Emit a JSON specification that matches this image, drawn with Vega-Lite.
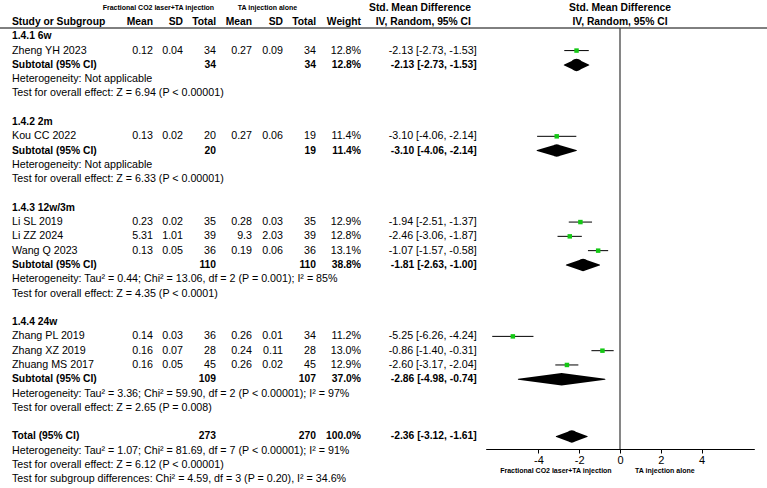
{
  "$schema": "https://vega.github.io/schema/vega-lite/v6.json",
  "width": 767,
  "height": 488,
  "autosize": {"type": "none"},
  "padding": 0,
  "background": "white",
  "config": {
    "view": {"stroke": null},
    "text": {"font": "Liberation Sans", "fontSize": 10.7, "color": "#000", "baseline": "middle"},
    "axis": {"labelFont": "Liberation Sans"}
  },
  "datasets": {
    "studies": [
      {"row": 2, "study": "Zheng YH 2023", "m1": 0.12, "sd1": 0.04, "n1": 34, "m2": 0.27, "sd2": 0.09, "n2": 34, "w": 0.128, "est": -2.13, "lo": -2.73, "hi": -1.53, "ci": "-2.13 [-2.73, -1.53]"},
      {"row": 8, "study": "Kou CC 2022", "m1": 0.13, "sd1": 0.02, "n1": 20, "m2": 0.27, "sd2": 0.06, "n2": 19, "w": 0.114, "est": -3.10, "lo": -4.06, "hi": -2.14, "ci": "-3.10 [-4.06, -2.14]"},
      {"row": 14, "study": "Li SL 2019", "m1": 0.23, "sd1": 0.02, "n1": 35, "m2": 0.28, "sd2": 0.03, "n2": 35, "w": 0.129, "est": -1.94, "lo": -2.51, "hi": -1.37, "ci": "-1.94 [-2.51, -1.37]"},
      {"row": 15, "study": "Li ZZ 2024", "m1": 5.31, "sd1": 1.01, "n1": 39, "m2": 9.3, "sd2": 2.03, "n2": 39, "w": 0.128, "est": -2.46, "lo": -3.06, "hi": -1.87, "ci": "-2.46 [-3.06, -1.87]"},
      {"row": 16, "study": "Wang Q 2023", "m1": 0.13, "sd1": 0.05, "n1": 36, "m2": 0.19, "sd2": 0.06, "n2": 36, "w": 0.131, "est": -1.07, "lo": -1.57, "hi": -0.58, "ci": "-1.07 [-1.57, -0.58]"},
      {"row": 22, "study": "Zhang PL 2019", "m1": 0.14, "sd1": 0.03, "n1": 36, "m2": 0.26, "sd2": 0.01, "n2": 34, "w": 0.112, "est": -5.25, "lo": -6.26, "hi": -4.24, "ci": "-5.25 [-6.26, -4.24]"},
      {"row": 23, "study": "Zhang XZ 2019", "m1": 0.16, "sd1": 0.07, "n1": 28, "m2": 0.24, "sd2": 0.11, "n2": 28, "w": 0.130, "est": -0.86, "lo": -1.40, "hi": -0.31, "ci": "-0.86 [-1.40, -0.31]"},
      {"row": 24, "study": "Zhuang MS 2017", "m1": 0.16, "sd1": 0.05, "n1": 45, "m2": 0.26, "sd2": 0.02, "n2": 45, "w": 0.129, "est": -2.60, "lo": -3.17, "hi": -2.04, "ci": "-2.60 [-3.17, -2.04]"}
    ],
    "pooled": [
      {"row": 3, "label": "Subtotal (95% CI)", "n1": 34, "n2": 34, "w": 0.128, "est": -2.13, "lo": -2.73, "hi": -1.53, "ci": "-2.13 [-2.73, -1.53]"},
      {"row": 9, "label": "Subtotal (95% CI)", "n1": 20, "n2": 19, "w": 0.114, "est": -3.10, "lo": -4.06, "hi": -2.14, "ci": "-3.10 [-4.06, -2.14]"},
      {"row": 17, "label": "Subtotal (95% CI)", "n1": 110, "n2": 110, "w": 0.388, "est": -1.81, "lo": -2.63, "hi": -1.00, "ci": "-1.81 [-2.63, -1.00]"},
      {"row": 25, "label": "Subtotal (95% CI)", "n1": 109, "n2": 107, "w": 0.370, "est": -2.86, "lo": -4.98, "hi": -0.74, "ci": "-2.86 [-4.98, -0.74]"},
      {"row": 29, "label": "Total (95% CI)", "n1": 273, "n2": 270, "w": 1.0, "est": -2.36, "lo": -3.12, "hi": -1.61, "ci": "-2.36 [-3.12, -1.61]"}
    ],
    "groups": [
      {"row": 1, "label": "1.4.1 6w"},
      {"row": 7, "label": "1.4.2 2m"},
      {"row": 13, "label": "1.4.3 12w/3m"},
      {"row": 21, "label": "1.4.4 24w"}
    ],
    "notes": [
      {"row": 4, "label": "Heterogeneity: Not applicable"},
      {"row": 5, "label": "Test for overall effect: Z = 6.94 (P < 0.00001)"},
      {"row": 10, "label": "Heterogeneity: Not applicable"},
      {"row": 11, "label": "Test for overall effect: Z = 6.33 (P < 0.00001)"},
      {"row": 18, "label": "Heterogeneity: Tau² = 0.44; Chi² = 13.06, df = 2 (P = 0.001); I² = 85%"},
      {"row": 19, "label": "Test for overall effect: Z = 4.35 (P < 0.0001)"},
      {"row": 26, "label": "Heterogeneity: Tau² = 3.36; Chi² = 59.90, df = 2 (P < 0.00001); I² = 97%"},
      {"row": 27, "label": "Test for overall effect: Z = 2.65 (P = 0.008)"},
      {"row": 30, "label": "Heterogeneity: Tau² = 1.07; Chi² = 81.69, df = 7 (P < 0.00001); I² = 91%"},
      {"row": 31, "label": "Test for overall effect: Z = 6.12 (P < 0.00001)"},
      {"row": 32, "label": "Test for subgroup differences: Chi² = 4.59, df = 3 (P = 0.20), I² = 34.6%"}
    ]
  },
  "resolve": {"scale": {"x": "independent"}, "axis": {"x": "independent"}},
  "layer": [
    {"data": {"name": "studies"}, "mark": {"type": "text", "align": "left"},
     "encoding": {"text": {"field": "study"}, "x": {"datum": 0, "type": "quantitative", "scale": {"domain": [0,1,2,3,4,5,6,7,8], "range": [12,153,183,216,252,283,316,361,476.7], "nice": false, "zero": false}, "axis": null},
       "y": {"field": "row", "type": "quantitative", "scale": {"domain": [-1.54, 32.61], "reverse": true, "nice": false, "zero": false}, "axis": null}}},
    {"data": {"name": "studies"}, "mark": {"type": "text", "align": "right"},
     "encoding": {"text": {"field": "m1", "type": "nominal"}, "x": {"datum": 1, "type": "quantitative", "scale": {"domain": [0,1,2,3,4,5,6,7,8], "range": [12,153,183,216,252,283,316,361,476.7], "nice": false, "zero": false}, "axis": null},
       "y": {"field": "row", "type": "quantitative", "scale": {"domain": [-1.54, 32.61], "reverse": true, "nice": false, "zero": false}, "axis": null}}},
    {"data": {"name": "studies"}, "mark": {"type": "text", "align": "right"},
     "encoding": {"text": {"field": "sd1", "type": "nominal"}, "x": {"datum": 2, "type": "quantitative", "scale": {"domain": [0,1,2,3,4,5,6,7,8], "range": [12,153,183,216,252,283,316,361,476.7], "nice": false, "zero": false}, "axis": null},
       "y": {"field": "row", "type": "quantitative", "scale": {"domain": [-1.54, 32.61], "reverse": true, "nice": false, "zero": false}, "axis": null}}},
    {"data": {"name": "studies"}, "mark": {"type": "text", "align": "right"},
     "encoding": {"text": {"field": "n1", "type": "nominal"}, "x": {"datum": 3, "type": "quantitative", "scale": {"domain": [0,1,2,3,4,5,6,7,8], "range": [12,153,183,216,252,283,316,361,476.7], "nice": false, "zero": false}, "axis": null},
       "y": {"field": "row", "type": "quantitative", "scale": {"domain": [-1.54, 32.61], "reverse": true, "nice": false, "zero": false}, "axis": null}}},
    {"data": {"name": "studies"}, "mark": {"type": "text", "align": "right"},
     "encoding": {"text": {"field": "m2", "type": "nominal"}, "x": {"datum": 4, "type": "quantitative", "scale": {"domain": [0,1,2,3,4,5,6,7,8], "range": [12,153,183,216,252,283,316,361,476.7], "nice": false, "zero": false}, "axis": null},
       "y": {"field": "row", "type": "quantitative", "scale": {"domain": [-1.54, 32.61], "reverse": true, "nice": false, "zero": false}, "axis": null}}},
    {"data": {"name": "studies"}, "mark": {"type": "text", "align": "right"},
     "encoding": {"text": {"field": "sd2", "type": "nominal"}, "x": {"datum": 5, "type": "quantitative", "scale": {"domain": [0,1,2,3,4,5,6,7,8], "range": [12,153,183,216,252,283,316,361,476.7], "nice": false, "zero": false}, "axis": null},
       "y": {"field": "row", "type": "quantitative", "scale": {"domain": [-1.54, 32.61], "reverse": true, "nice": false, "zero": false}, "axis": null}}},
    {"data": {"name": "studies"}, "mark": {"type": "text", "align": "right"},
     "encoding": {"text": {"field": "n2", "type": "nominal"}, "x": {"datum": 6, "type": "quantitative", "scale": {"domain": [0,1,2,3,4,5,6,7,8], "range": [12,153,183,216,252,283,316,361,476.7], "nice": false, "zero": false}, "axis": null},
       "y": {"field": "row", "type": "quantitative", "scale": {"domain": [-1.54, 32.61], "reverse": true, "nice": false, "zero": false}, "axis": null}}},
    {"data": {"name": "studies"}, "mark": {"type": "text", "align": "right"},
     "encoding": {"text": {"field": "w", "type": "quantitative", "format": ".1%"}, "x": {"datum": 7, "type": "quantitative", "scale": {"domain": [0,1,2,3,4,5,6,7,8], "range": [12,153,183,216,252,283,316,361,476.7], "nice": false, "zero": false}, "axis": null},
       "y": {"field": "row", "type": "quantitative", "scale": {"domain": [-1.54, 32.61], "reverse": true, "nice": false, "zero": false}, "axis": null}}},
    {"data": {"name": "studies"}, "mark": {"type": "text", "align": "right"},
     "encoding": {"text": {"field": "ci", "type": "nominal"}, "x": {"datum": 8, "type": "quantitative", "scale": {"domain": [0,1,2,3,4,5,6,7,8], "range": [12,153,183,216,252,283,316,361,476.7], "nice": false, "zero": false}, "axis": null},
       "y": {"field": "row", "type": "quantitative", "scale": {"domain": [-1.54, 32.61], "reverse": true, "nice": false, "zero": false}, "axis": null}}},

    {"data": {"name": "pooled"}, "mark": {"type": "text", "align": "left", "fontWeight": "bold", "fontSize": 10.3},
     "encoding": {"text": {"field": "label"}, "x": {"datum": 0, "type": "quantitative", "scale": {"domain": [0,1,2,3,4,5,6,7,8], "range": [12,153,183,216,252,283,316,361,476.7], "nice": false, "zero": false}, "axis": null},
       "y": {"field": "row", "type": "quantitative", "scale": {"domain": [-1.54, 32.61], "reverse": true, "nice": false, "zero": false}, "axis": null}}},
    {"data": {"name": "pooled"}, "mark": {"type": "text", "align": "right", "fontWeight": "bold", "fontSize": 10.3},
     "encoding": {"text": {"field": "n1", "type": "nominal"}, "x": {"datum": 3, "type": "quantitative", "scale": {"domain": [0,1,2,3,4,5,6,7,8], "range": [12,153,183,216,252,283,316,361,476.7], "nice": false, "zero": false}, "axis": null},
       "y": {"field": "row", "type": "quantitative", "scale": {"domain": [-1.54, 32.61], "reverse": true, "nice": false, "zero": false}, "axis": null}}},
    {"data": {"name": "pooled"}, "mark": {"type": "text", "align": "right", "fontWeight": "bold", "fontSize": 10.3},
     "encoding": {"text": {"field": "n2", "type": "nominal"}, "x": {"datum": 6, "type": "quantitative", "scale": {"domain": [0,1,2,3,4,5,6,7,8], "range": [12,153,183,216,252,283,316,361,476.7], "nice": false, "zero": false}, "axis": null},
       "y": {"field": "row", "type": "quantitative", "scale": {"domain": [-1.54, 32.61], "reverse": true, "nice": false, "zero": false}, "axis": null}}},
    {"data": {"name": "pooled"}, "mark": {"type": "text", "align": "right", "fontWeight": "bold", "fontSize": 10.3},
     "encoding": {"text": {"field": "w", "type": "quantitative", "format": ".1%"}, "x": {"datum": 7, "type": "quantitative", "scale": {"domain": [0,1,2,3,4,5,6,7,8], "range": [12,153,183,216,252,283,316,361,476.7], "nice": false, "zero": false}, "axis": null},
       "y": {"field": "row", "type": "quantitative", "scale": {"domain": [-1.54, 32.61], "reverse": true, "nice": false, "zero": false}, "axis": null}}},
    {"data": {"name": "pooled"}, "mark": {"type": "text", "align": "right", "fontWeight": "bold", "fontSize": 10.3},
     "encoding": {"text": {"field": "ci", "type": "nominal"}, "x": {"datum": 8, "type": "quantitative", "scale": {"domain": [0,1,2,3,4,5,6,7,8], "range": [12,153,183,216,252,283,316,361,476.7], "nice": false, "zero": false}, "axis": null},
       "y": {"field": "row", "type": "quantitative", "scale": {"domain": [-1.54, 32.61], "reverse": true, "nice": false, "zero": false}, "axis": null}}},

    {"data": {"name": "groups"}, "mark": {"type": "text", "align": "left", "fontWeight": "bold", "fontSize": 10.3},
     "encoding": {"text": {"field": "label"}, "x": {"datum": 0, "type": "quantitative", "scale": {"domain": [0,1,2,3,4,5,6,7,8], "range": [12,153,183,216,252,283,316,361,476.7], "nice": false, "zero": false}, "axis": null},
       "y": {"field": "row", "type": "quantitative", "scale": {"domain": [-1.54, 32.61], "reverse": true, "nice": false, "zero": false}, "axis": null}}},
    {"data": {"name": "notes"}, "mark": {"type": "text", "align": "left"},
     "encoding": {"text": {"field": "label"}, "x": {"datum": 0, "type": "quantitative", "scale": {"domain": [0,1,2,3,4,5,6,7,8], "range": [12,153,183,216,252,283,316,361,476.7], "nice": false, "zero": false}, "axis": null},
       "y": {"field": "row", "type": "quantitative", "scale": {"domain": [-1.54, 32.61], "reverse": true, "nice": false, "zero": false}, "axis": null}}},

    {"data": {"values": [{}]}, "mark": {"type": "text", "align": "left", "fontWeight": "bold", "fontSize": 10.3, "text": "Study or Subgroup"},
     "encoding": {"x": {"datum": 0, "type": "quantitative", "scale": {"domain": [0,1,2,3,4,5,6,7,8], "range": [12,153,183,216,252,283,316,361,476.7], "nice": false, "zero": false}, "axis": null},
       "y": {"datum": 0, "type": "quantitative", "scale": {"domain": [-1.54, 32.61], "reverse": true, "nice": false, "zero": false}, "axis": null}}},
    {"data": {"values": [{}]}, "mark": {"type": "text", "align": "right", "fontWeight": "bold", "fontSize": 10.3, "text": "Mean"},
     "encoding": {"x": {"datum": 1, "type": "quantitative", "scale": {"domain": [0,1,2,3,4,5,6,7,8], "range": [12,153,183,216,252,283,316,361,476.7], "nice": false, "zero": false}, "axis": null},
       "y": {"datum": 0, "type": "quantitative", "scale": {"domain": [-1.54, 32.61], "reverse": true, "nice": false, "zero": false}, "axis": null}}},
    {"data": {"values": [{}]}, "mark": {"type": "text", "align": "right", "fontWeight": "bold", "fontSize": 10.3, "text": "SD"},
     "encoding": {"x": {"datum": 2, "type": "quantitative", "scale": {"domain": [0,1,2,3,4,5,6,7,8], "range": [12,153,183,216,252,283,316,361,476.7], "nice": false, "zero": false}, "axis": null},
       "y": {"datum": 0, "type": "quantitative", "scale": {"domain": [-1.54, 32.61], "reverse": true, "nice": false, "zero": false}, "axis": null}}},
    {"data": {"values": [{}]}, "mark": {"type": "text", "align": "right", "fontWeight": "bold", "fontSize": 10.3, "text": "Total"},
     "encoding": {"x": {"datum": 3, "type": "quantitative", "scale": {"domain": [0,1,2,3,4,5,6,7,8], "range": [12,153,183,216,252,283,316,361,476.7], "nice": false, "zero": false}, "axis": null},
       "y": {"datum": 0, "type": "quantitative", "scale": {"domain": [-1.54, 32.61], "reverse": true, "nice": false, "zero": false}, "axis": null}}},
    {"data": {"values": [{}]}, "mark": {"type": "text", "align": "right", "fontWeight": "bold", "fontSize": 10.3, "text": "Mean"},
     "encoding": {"x": {"datum": 4, "type": "quantitative", "scale": {"domain": [0,1,2,3,4,5,6,7,8], "range": [12,153,183,216,252,283,316,361,476.7], "nice": false, "zero": false}, "axis": null},
       "y": {"datum": 0, "type": "quantitative", "scale": {"domain": [-1.54, 32.61], "reverse": true, "nice": false, "zero": false}, "axis": null}}},
    {"data": {"values": [{}]}, "mark": {"type": "text", "align": "right", "fontWeight": "bold", "fontSize": 10.3, "text": "SD"},
     "encoding": {"x": {"datum": 5, "type": "quantitative", "scale": {"domain": [0,1,2,3,4,5,6,7,8], "range": [12,153,183,216,252,283,316,361,476.7], "nice": false, "zero": false}, "axis": null},
       "y": {"datum": 0, "type": "quantitative", "scale": {"domain": [-1.54, 32.61], "reverse": true, "nice": false, "zero": false}, "axis": null}}},
    {"data": {"values": [{}]}, "mark": {"type": "text", "align": "right", "fontWeight": "bold", "fontSize": 10.3, "text": "Total"},
     "encoding": {"x": {"datum": 6, "type": "quantitative", "scale": {"domain": [0,1,2,3,4,5,6,7,8], "range": [12,153,183,216,252,283,316,361,476.7], "nice": false, "zero": false}, "axis": null},
       "y": {"datum": 0, "type": "quantitative", "scale": {"domain": [-1.54, 32.61], "reverse": true, "nice": false, "zero": false}, "axis": null}}},
    {"data": {"values": [{}]}, "mark": {"type": "text", "align": "right", "fontWeight": "bold", "fontSize": 10.3, "text": "Weight"},
     "encoding": {"x": {"datum": 7, "type": "quantitative", "scale": {"domain": [0,1,2,3,4,5,6,7,8], "range": [12,153,183,216,252,283,316,361,476.7], "nice": false, "zero": false}, "axis": null},
       "y": {"datum": 0, "type": "quantitative", "scale": {"domain": [-1.54, 32.61], "reverse": true, "nice": false, "zero": false}, "axis": null}}},
    {"data": {"values": [{}]}, "mark": {"type": "text", "align": "right", "fontWeight": "bold", "fontSize": 10.3, "text": "IV, Random, 95% CI"},
     "encoding": {"x": {"datum": 7.95, "type": "quantitative", "scale": {"domain": [0,1,2,3,4,5,6,7,8], "range": [12,153,183,216,252,283,316,361,476.7], "nice": false, "zero": false}, "axis": null},
       "y": {"datum": 0, "type": "quantitative", "scale": {"domain": [-1.54, 32.61], "reverse": true, "nice": false, "zero": false}, "axis": null}}},
    {"data": {"values": [{}]}, "mark": {"type": "text", "align": "right", "fontWeight": "bold", "fontSize": 10.3, "text": "Std. Mean Difference"},
     "encoding": {"x": {"datum": 7.95, "type": "quantitative", "scale": {"domain": [0,1,2,3,4,5,6,7,8], "range": [12,153,183,216,252,283,316,361,476.7], "nice": false, "zero": false}, "axis": null},
       "y": {"datum": -1, "type": "quantitative", "scale": {"domain": [-1.54, 32.61], "reverse": true, "nice": false, "zero": false}, "axis": null}}},
    {"data": {"values": [{}]}, "mark": {"type": "text", "align": "center", "fontWeight": "bold", "fontSize": 7, "text": "Fractional CO2 laser+TA injection"},
     "encoding": {"x": {"datum": 1.18, "type": "quantitative", "scale": {"domain": [0,1,2,3,4,5,6,7,8], "range": [12,153,183,216,252,283,316,361,476.7], "nice": false, "zero": false}, "axis": null},
       "y": {"datum": -1, "type": "quantitative", "scale": {"domain": [-1.54, 32.61], "reverse": true, "nice": false, "zero": false}, "axis": null}}},
    {"data": {"values": [{}]}, "mark": {"type": "text", "align": "center", "fontWeight": "bold", "fontSize": 7, "text": "TA injection alone"},
     "encoding": {"x": {"datum": 4.5, "type": "quantitative", "scale": {"domain": [0,1,2,3,4,5,6,7,8], "range": [12,153,183,216,252,283,316,361,476.7], "nice": false, "zero": false}, "axis": null},
       "y": {"datum": -1, "type": "quantitative", "scale": {"domain": [-1.54, 32.61], "reverse": true, "nice": false, "zero": false}, "axis": null}}},

    {"data": {"values": [{}]}, "mark": {"type": "rule", "color": "#000", "strokeWidth": 1},
     "encoding": {"y": {"datum": 0.42, "type": "quantitative", "scale": {"domain": [-1.54, 32.61], "reverse": true, "nice": false, "zero": false}, "axis": null}}},
    {"data": {"values": [{}]}, "mark": {"type": "rule", "color": "#444", "strokeWidth": 1.3},
     "encoding": {"x": {"datum": 0, "type": "quantitative", "scale": {"domain": [-6.58, 6.58], "range": [485.7, 754.3], "nice": false, "zero": false}, "axis": null},
       "y": {"datum": 0.42, "type": "quantitative", "scale": {"domain": [-1.54, 32.61], "reverse": true, "nice": false, "zero": false}, "axis": null},
       "y2": {"datum": 29.88}}},
    {"data": {"name": "studies"}, "mark": {"type": "rule", "color": "#000", "strokeWidth": 1},
     "encoding": {"x": {"field": "lo", "type": "quantitative", "scale": {"domain": [-6.58, 6.58], "range": [485.7, 754.3], "nice": false, "zero": false},
         "axis": {"values": [-4, -2, 0, 2, 4], "labelExpr": "'' + datum.value", "offset": -39, "title": null, "grid": false, "domainColor": "#000", "domainWidth": 1, "tickColor": "#000", "tickSize": 4, "labelColor": "#000", "labelFontSize": 11, "labelPadding": 1}},
       "x2": {"field": "hi"},
       "y": {"field": "row", "type": "quantitative", "scale": {"domain": [-1.54, 32.61], "reverse": true, "nice": false, "zero": false}, "axis": null}}},
    {"data": {"name": "studies"}, "mark": {"type": "point", "shape": "square", "filled": true, "size": 20, "color": "#14c814", "opacity": 1},
     "encoding": {"x": {"field": "est", "type": "quantitative", "scale": {"domain": [-6.58, 6.58], "range": [485.7, 754.3], "nice": false, "zero": false}, "axis": null},
       "y": {"field": "row", "type": "quantitative", "scale": {"domain": [-1.54, 32.61], "reverse": true, "nice": false, "zero": false}, "axis": null}}},
    {"data": {"name": "pooled"}, "transform": [{"fold": ["lo", "est", "hi"], "as": ["k", "xv"]}],
     "mark": {"type": "trail", "color": "#000"},
     "encoding": {"x": {"field": "xv", "type": "quantitative", "scale": {"domain": [-6.58, 6.58], "range": [485.7, 754.3], "nice": false, "zero": false}, "axis": null},
       "y": {"field": "row", "type": "quantitative", "scale": {"domain": [-1.54, 32.61], "reverse": true, "nice": false, "zero": false}, "axis": null},
       "detail": {"field": "row", "type": "nominal"},
       "size": {"field": "k", "type": "nominal", "scale": {"type": "ordinal", "domain": ["lo", "est", "hi"], "range": [0, 12.5, 0]}, "legend": null}}},
    {"data": {"values": [{}]}, "mark": {"type": "text", "align": "center", "fontWeight": "bold", "fontSize": 10.3, "text": "Std. Mean Difference"},
     "encoding": {"x": {"datum": 0, "type": "quantitative", "scale": {"domain": [-6.58, 6.58], "range": [485.7, 754.3], "nice": false, "zero": false}, "axis": null},
       "y": {"datum": -1, "type": "quantitative", "scale": {"domain": [-1.54, 32.61], "reverse": true, "nice": false, "zero": false}, "axis": null}}},
    {"data": {"values": [{}]}, "mark": {"type": "text", "align": "center", "fontWeight": "bold", "fontSize": 10.3, "text": "IV, Random, 95% CI"},
     "encoding": {"x": {"datum": 0, "type": "quantitative", "scale": {"domain": [-6.58, 6.58], "range": [485.7, 754.3], "nice": false, "zero": false}, "axis": null},
       "y": {"datum": 0, "type": "quantitative", "scale": {"domain": [-1.54, 32.61], "reverse": true, "nice": false, "zero": false}, "axis": null}}},
    {"data": {"values": [{}]}, "mark": {"type": "text", "align": "right", "fontWeight": "bold", "fontSize": 7, "text": "Fractional CO2 laser+TA injection"},
     "encoding": {"x": {"datum": -0.41, "type": "quantitative", "scale": {"domain": [-6.58, 6.58], "range": [485.7, 754.3], "nice": false, "zero": false}, "axis": null},
       "y": {"datum": 31.42, "type": "quantitative", "scale": {"domain": [-1.54, 32.61], "reverse": true, "nice": false, "zero": false}, "axis": null}}},
    {"data": {"values": [{}]}, "mark": {"type": "text", "align": "left", "fontWeight": "bold", "fontSize": 7, "text": "TA injection alone"},
     "encoding": {"x": {"datum": 0.74, "type": "quantitative", "scale": {"domain": [-6.58, 6.58], "range": [485.7, 754.3], "nice": false, "zero": false}, "axis": null},
       "y": {"datum": 31.42, "type": "quantitative", "scale": {"domain": [-1.54, 32.61], "reverse": true, "nice": false, "zero": false}, "axis": null}}}
  ]
}
